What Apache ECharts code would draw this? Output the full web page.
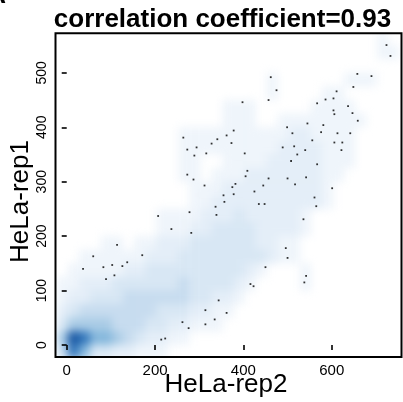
<!DOCTYPE html>
<html><head><meta charset="utf-8">
<script src="https://cdn.jsdelivr.net/npm/echarts@6/dist/echarts.min.js"></script>
<style>
html,body{margin:0;padding:0;background:#fff;width:403px;height:402px;overflow:hidden;}
#clip{position:absolute;overflow:hidden;}
#bg{position:absolute;width:403px;height:402px;filter:blur(4px);}
#fg{position:absolute;left:0;top:0;width:403px;height:402px;}
</style></head><body>
<div id="clip"><div id="bg"></div></div>
<div id="fg"></div>
<script>
// ---- data ----
const titleText = 'correlation coefficient=0.93';
const xName = 'HeLa-rep2';
const yName = 'HeLa-rep1';
const xTicks = [0, 200, 400, 600];
const yTicks = [0, 100, 200, 300, 400, 500];
const xRange = [-25.4, 758];
const yRange = [-22, 572.6];
// density grid (levels 0-9), cells of 25 x 25 data units, starting at x=-22, y=-25; top row first
const cellX0 = -22, cellY0 = -25, cellSize = 25;
const densityRows = [
  '0000000000000000000000000000010',
  '0000000000000000000000000000011',
  '0000000000000000000000000000000',
  '0000000000000000000100000011100',
  '0000000000000000000100001100000',
  '0000000000000001110000011110000',
  '0000000000000001110011111111000',
  '0000000000011111111112211110000',
  '0000000000011111111122221110000',
  '0000000000011001111222221110000',
  '0000000000011011122222221100000',
  '0000000000001112222222221000000',
  '0000000000001122222222221000000',
  '0000000001111222322222100000000',
  '0000000001112233332222100000000',
  '0000110112223333332211000000000',
  '0011111122233333333211000000000',
  '0111112233333333321000100000000',
  '1122233333343333210000100000000',
  '1223334444443322100000000000000',
  '2344444443332211000000000000000',
  '3555544433221110000000000000000',
  '5986654322110000000000000000000',
  '4863322111000000000000000000000'
];
const levelColors = ['#ffffff','#eff5fb','#e4eef8','#d8e7f4','#c7dcef','#aacce6','#84b7dc','#5a9bcf','#3578bc','#1a58a3'];
// sparse low-density points [rep2, rep1]
const points = [
  [37,140],[60,163],[83,143],[103,147],[108,128],[89,121],[126,145],[137,152],[114,184],[171,165],
  [207,237],[237,213],[278,244],[282,206],[337,254],[339,239],[357,263],[355,275],[344,82],[362,59],
  [314,64],[335,47],[314,38],[262,42],[276,31],[214,10],[223,12],
  [435,259],[448,259],[561,271],[565,255],[536,231],[496,178],[500,160],[450,143],[542,127],[538,115],
  [416,112],[423,108],
  [724,551],[733,531],[658,498],[690,494],[649,474],[611,466],[604,453],[586,451],[567,444],[637,439],
  [604,431],[647,426],[606,424],[659,412],[462,492],[475,468],[457,450],[398,446],[378,394],[373,371],
  [403,352],[545,407],[499,400],[511,389],[581,404],[576,391],[613,389],[642,389],[556,376],[606,372],
  [624,372],[515,365],[489,363],[540,358],[522,350],[622,358],[508,338],[567,332],[409,320],[405,310],
  [457,306],[500,306],[542,308],[445,293],[517,295],[601,288],[425,282],[382,296],[375,290],[378,277],
  [264,381],[273,359],[294,363],[289,348],[316,352],[328,370],[341,378],[362,385],[273,313],[287,304],[312,293]
];

// ---- foreground chart (axes, frame, points, texts) ----
const FONT = '"Liberation Sans", Arial, Helvetica, sans-serif';
const GRID = {left: 55.5, right: 1.5, top: 33.3, bottom: 45};
const fg = echarts.init(document.getElementById('fg'), null, {renderer: 'canvas'});
fg.setOption({
  animation: false,
  grid: Object.assign({show: true, borderColor: '#000', borderWidth: 2, backgroundColor: 'transparent', outerBoundsMode: 'none', containLabel: false}, GRID),
  xAxis: {
    type: 'value', min: xRange[0], max: xRange[1],
    axisLine: {show: false}, splitLine: {show: false},
    axisTick: {show: true, length: 5, lineStyle: {color: '#000', width: 1.6}, customValues: xTicks},
    axisLabel: {customValues: xTicks, color: '#000', fontSize: 15, fontFamily: FONT, margin: 6}
  },
  yAxis: {
    type: 'value', min: yRange[0], max: yRange[1],
    axisLine: {show: false}, splitLine: {show: false},
    axisTick: {show: true, length: 5, lineStyle: {color: '#000', width: 1.6}, customValues: yTicks},
    axisLabel: {customValues: yTicks, color: '#000', fontSize: 14, fontFamily: FONT, margin: 6, rotate: 90}
  },
  series: [{
    type: 'scatter', data: points, symbol: 'rect', symbolSize: 1.8,
    itemStyle: {color: '#000'}, silent: true
  }],
  graphic: [
    {type: 'text', x: 222.5, y: 19.5, silent: true,
     style: {text: titleText, fontSize: 26, fontWeight: 'bold', fontFamily: FONT, fill: '#000', align: 'center', verticalAlign: 'middle'}},
    {type: 'text', x: 226, y: 385, silent: true,
     style: {text: xName, fontSize: 26, fontFamily: FONT, fill: '#000', align: 'center', verticalAlign: 'middle'}},
    {type: 'text', x: 20.5, y: 201.5, rotation: Math.PI / 2, silent: true,
     style: {text: yName, fontSize: 26, fontFamily: FONT, fill: '#000', align: 'center', verticalAlign: 'middle'}},
    {type: 'text', x: 6, y: -4, silent: true,
     style: {text: 'A', fontSize: 26, fontWeight: 'bold', fontFamily: FONT, fill: '#000', align: 'right', verticalAlign: 'middle'}}
  ]
});

// ---- background density layer (blurred heatmap), aligned through the foreground scales ----
const nRows = densityRows.length, nCols = densityRows[0].length;
const pxL = fg.convertToPixel({xAxisIndex: 0}, cellX0);
const pxR = fg.convertToPixel({xAxisIndex: 0}, cellX0 + nCols * cellSize);
const pxB = fg.convertToPixel({yAxisIndex: 0}, cellY0);
const pxT = fg.convertToPixel({yAxisIndex: 0}, cellY0 + nRows * cellSize);
const boxL = fg.convertToPixel({xAxisIndex: 0}, xRange[0]);
const boxR = fg.convertToPixel({xAxisIndex: 0}, xRange[1]);
const boxT = fg.convertToPixel({yAxisIndex: 0}, yRange[1]);
const boxB = fg.convertToPixel({yAxisIndex: 0}, yRange[0]);
const clip = document.getElementById('clip');
clip.style.left = boxL + 'px'; clip.style.top = boxT + 'px';
clip.style.width = (boxR - boxL) + 'px'; clip.style.height = (boxB - boxT) + 'px';
const bgDiv = document.getElementById('bg');
bgDiv.style.left = (-boxL) + 'px'; bgDiv.style.top = (-boxT) + 'px';

const heat = [];
for (let r = 0; r < nRows; r++) {
  const j = nRows - 1 - r;
  for (let i = 0; i < nCols; i++) {
    const v = +densityRows[r][i];
    if (v > 0) heat.push([i, j, v]);
  }
}
const bg = echarts.init(bgDiv, null, {renderer: 'canvas'});
bg.setOption({
  animation: false,
  grid: {left: pxL, top: pxT, width: pxR - pxL, height: pxB - pxT, outerBoundsMode: 'none', containLabel: false},
  xAxis: {type: 'category', data: Array.from({length: nCols}, (_, k) => k), show: false},
  yAxis: {type: 'category', data: Array.from({length: nRows}, (_, k) => k), show: false},
  visualMap: {show: false, type: 'continuous', min: 0, max: 9, dimension: 2, inRange: {color: levelColors}},
  series: [{type: 'heatmap', data: heat, itemStyle: {borderWidth: 0}, emphasis: {disabled: true}, silent: true}]
});
</script>
</body></html>
